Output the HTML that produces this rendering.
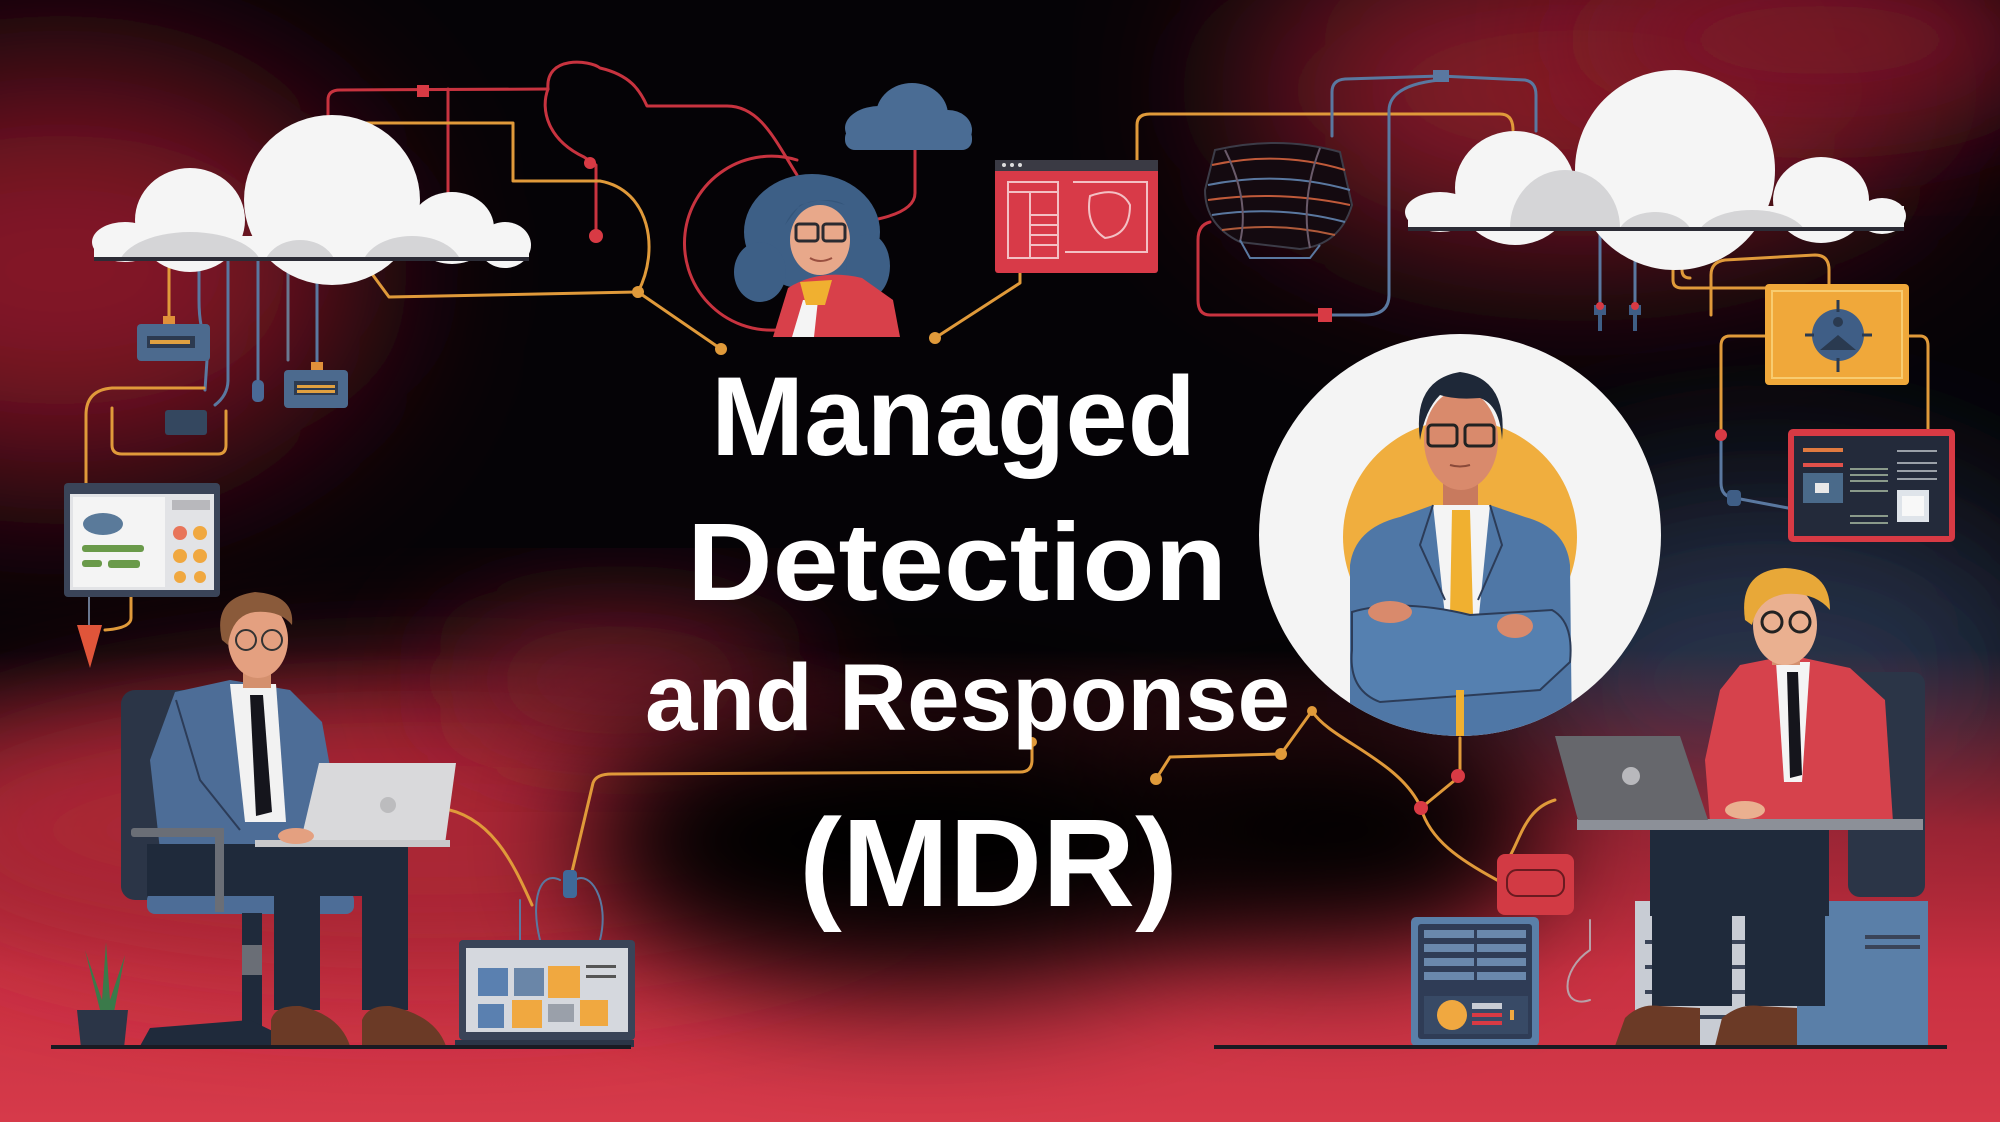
<!DOCTYPE html>
<html><head><meta charset="utf-8">
<style>
html,body{margin:0;padding:0;background:#050306;overflow:hidden;width:2000px;height:1122px;}
svg{display:block;overflow:hidden;}
</style></head><body>
<svg width="2000" height="1122" viewBox="0 0 2000 1122" xmlns="http://www.w3.org/2000/svg">
<defs>
<filter id="b90" x="-60%" y="-60%" width="220%" height="220%"><feGaussianBlur stdDeviation="90"/></filter>
<filter id="b60" x="-60%" y="-60%" width="220%" height="220%"><feGaussianBlur stdDeviation="60"/></filter>
<linearGradient id="bot" x1="0" y1="0" x2="0" y2="1">
<stop offset="0" stop-color="#b02636" stop-opacity="0"/>
<stop offset="0.38" stop-color="#b02636" stop-opacity="0.85"/>
<stop offset="0.68" stop-color="#c83041"/>
<stop offset="1" stop-color="#d63a4a"/>
</linearGradient>
<clipPath id="cc"><circle cx="1460" cy="535" r="201"/></clipPath>
<clipPath id="lc"><rect x="90" y="100" width="445" height="159"/></clipPath>
<clipPath id="rc"><rect x="1400" y="60" width="510" height="169"/></clipPath>
<clipPath id="all"><rect x="0" y="0" width="2000" height="1122"/></clipPath>
</defs>

<g clip-path="url(#all)">
<!-- BACKGROUND -->
<rect width="2000" height="1122" fill="#050306"/>
<ellipse cx="60" cy="270" rx="300" ry="200" fill="#841828" filter="url(#b90)"/>
<ellipse cx="1580" cy="90" rx="340" ry="150" fill="#8c1a2c" filter="url(#b90)"/>
<ellipse cx="1820" cy="40" rx="240" ry="80" fill="#7a1626" filter="url(#b60)"/>
<ellipse cx="1770" cy="680" rx="300" ry="190" fill="#27314a" filter="url(#b90)"/>
<rect x="0" y="650" width="2000" height="472" fill="url(#bot)"/>
<ellipse cx="420" cy="830" rx="520" ry="140" fill="#aa2636" filter="url(#b60)"/>
<ellipse cx="620" cy="680" rx="180" ry="60" fill="#7a1a2a" filter="url(#b60)"/>
<ellipse cx="920" cy="840" rx="340" ry="150" fill="#050306" filter="url(#b60)"/>
<ellipse cx="1330" cy="830" rx="220" ry="120" fill="#050306" filter="url(#b60)"/>
</g>

<!-- WIRES -->
<g fill="none" stroke-width="3" stroke-linecap="round" stroke-linejoin="round">
<path d="M328,116 L328,100 Q328,90 340,90 L548,89" stroke="#c8333f"/>
<path d="M448,89 L448,193" stroke="#c8333f"/>
<path d="M548,89 C545,55 590,60 600,68 C630,75 640,90 647,106 L727,106 C760,106 775,140 797,175" stroke="#c8333f"/>
<path d="M548,89 C540,110 548,140 584,157 L596,165 L596,236" stroke="#c8333f"/>
<path d="M360,123 L513,123 L513,181 L600,181 C650,190 660,250 638,292 L389,297 L364,263" stroke="#e09a3a"/>
<path d="M638,292 L721,349" stroke="#e09a3a"/>
<path d="M797,160 A87,87 0 1,0 777,330" stroke="#c8333f"/>
<path d="M915,150 L915,193 Q915,212 873,220" stroke="#c8333f"/>
<path d="M1020,273 L1020,283 L935,338" stroke="#e09a3a"/>
<path d="M1137,160 L1137,125 Q1137,114 1150,114 L1500,114 Q1513,114 1513,130" stroke="#e09a3a"/>
<path d="M1332,136 L1332,92 Q1332,80 1345,79 L1440,76 L1525,80 Q1536,82 1536,95 L1536,131" stroke="#5a78a0"/>
<path d="M1440,80 Q1390,85 1389,110 L1389,295 Q1389,315 1365,315 L1325,315" stroke="#5a78a0"/>
<path d="M1325,315 L1210,315 Q1198,315 1198,300 L1198,240 Q1198,225 1210,222" stroke="#c8333f"/>
<path d="M1600,229 L1600,305" stroke="#5a78a0"/>
<path d="M1635,229 L1635,305" stroke="#5a78a0"/>
<path d="M1673,229 L1673,280 Q1673,288 1682,288 L1765,288" stroke="#e09a3a"/>
<path d="M1682,229 L1682,270 Q1682,278 1690,278" stroke="#e09a3a"/>
<path d="M1711,315 L1711,275 Q1711,262 1725,260 L1815,255 Q1829,255 1829,270 L1829,284" stroke="#e09a3a"/>
<path d="M1909,336 L1920,336 Q1928,336 1928,346 L1928,429" stroke="#e09a3a"/>
<path d="M1765,336 L1730,336 Q1721,336 1721,346 L1721,435" stroke="#e09a3a"/>
<path d="M1721,435 L1721,483 Q1721,497 1735,498 L1788,508" stroke="#5a78a0"/>
<path d="M169,259 L169,324" stroke="#e09a3a"/>
<path d="M199,259 L199,300 Q199,330 208,345 L205,390" stroke="#5a78a0"/>
<path d="M228,259 L228,380 Q228,395 215,405" stroke="#5a78a0"/>
<path d="M258,259 L258,395" stroke="#5a78a0"/>
<path d="M288,259 L288,360" stroke="#6a7890"/>
<path d="M317,259 L317,370" stroke="#5a78a0"/>
<path d="M86,485 L86,415 Q86,390 112,388 L204,388" stroke="#e09a3a"/>
<path d="M112,408 L112,445 Q112,454 122,454 L218,454 Q226,454 226,445 L226,411" stroke="#e09a3a"/>
<path d="M131,597 L131,618 Q131,628 105,630" stroke="#e09a3a"/>
<path d="M89,597 L89,625" stroke="#6a7890" stroke-width="2"/>
<path d="M440,808 C490,815 512,860 532,905" stroke="#e09a3a"/>
<path d="M571,876 L593,783 Q596,774 612,774 L1020,772 Q1032,772 1032,760 L1032,742" stroke="#e09a3a"/>
<path d="M1156,779 L1170,757 L1281,754 L1312,711" stroke="#e09a3a"/>
<path d="M1312,711 C1330,740 1400,760 1421,808" stroke="#e09a3a"/>
<path d="M1460,738 L1460,776 L1421,808 C1430,840 1460,860 1497,880" stroke="#e09a3a"/>
<path d="M1555,800 C1520,810 1520,850 1500,870" stroke="#e09a3a"/>
<path d="M540,940 C530,900 540,870 560,880 M600,940 C610,900 590,870 575,880 M520,940 L520,900" stroke="#5a78a0" stroke-width="2"/>
<path d="M1590,1000 C1560,1010 1560,970 1590,950 L1590,920" stroke="#b8a0a8" stroke-width="2"/>
</g>
<g>
<rect x="417" y="85" width="12" height="12" fill="#d83a44"/>
<circle cx="590" cy="163" r="6" fill="#d83a44"/>
<circle cx="596" cy="236" r="7" fill="#d83a44"/>
<circle cx="638" cy="292" r="6" fill="#e09a3a"/>
<circle cx="721" cy="349" r="6" fill="#e09a3a"/>
<circle cx="935" cy="338" r="6" fill="#e09a3a"/>
<rect x="1433" y="70" width="16" height="12" fill="#5a78a0"/>
<rect x="1318" y="308" width="14" height="14" fill="#d83a44"/>
<circle cx="1721" cy="435" r="6" fill="#d83a44"/>
<path d="M1594,305 h12 v10 h-4 v16 h-4 v-16 h-4z" fill="#3f5e86"/>
<path d="M1629,305 h12 v10 h-4 v16 h-4 v-16 h-4z" fill="#3f5e86"/>
<circle cx="1600" cy="306" r="4" fill="#d83a44"/>
<circle cx="1635" cy="306" r="4" fill="#d83a44"/>
<rect x="1727" y="490" width="14" height="16" rx="4" fill="#3f5e86"/>
<circle cx="1032" cy="742" r="5" fill="#e09a3a"/>
<circle cx="1156" cy="779" r="6" fill="#e09a3a"/>
<circle cx="1281" cy="754" r="6" fill="#e09a3a"/>
<circle cx="1312" cy="711" r="5" fill="#e09a3a"/>
<circle cx="1421" cy="808" r="7" fill="#d83a44"/>
<circle cx="1458" cy="776" r="7" fill="#d83a44"/>
<rect x="563" y="870" width="14" height="28" rx="4" fill="#3f6a9a"/>
<rect x="252" y="380" width="12" height="22" rx="5" fill="#4a6a96"/>
<rect x="311" y="362" width="12" height="10" fill="#e0903a"/>
<rect x="163" y="316" width="12" height="10" fill="#e0903a"/>
</g>

<!-- LEFT CLOUD -->
<g>
<g fill="#f5f5f5">
<ellipse cx="125" cy="242" rx="33" ry="20"/>
<ellipse cx="190" cy="220" rx="55" ry="52"/>
<ellipse cx="332" cy="200" rx="88" ry="85"/>
<ellipse cx="452" cy="228" rx="42" ry="36"/>
<ellipse cx="505" cy="245" rx="26" ry="23"/>
<rect x="94" y="236" width="435" height="23"/>
</g>
<g clip-path="url(#lc)" fill="#d5d5d7">
<ellipse cx="190" cy="268" rx="72" ry="36"/>
<ellipse cx="300" cy="268" rx="36" ry="28"/>
<ellipse cx="412" cy="268" rx="50" ry="32"/>
</g>
<rect x="94" y="257" width="435" height="4" fill="#2c2c36"/>
</g>

<!-- RIGHT CLOUD -->
<g>
<g fill="#f5f5f5">
<ellipse cx="1440" cy="212" rx="35" ry="20"/>
<ellipse cx="1515" cy="188" rx="60" ry="57"/>
<ellipse cx="1675" cy="170" rx="100" ry="100"/>
<ellipse cx="1821" cy="200" rx="48" ry="43"/>
<ellipse cx="1882" cy="216" rx="24" ry="18"/>
<rect x="1408" y="206" width="496" height="23"/>
</g>
<g clip-path="url(#rc)" fill="#d5d5d7">
<ellipse cx="1565" cy="228" rx="55" ry="58"/>
<ellipse cx="1655" cy="238" rx="38" ry="26"/>
<ellipse cx="1752" cy="238" rx="55" ry="28"/>
</g>
<rect x="1408" y="227" width="496" height="4" fill="#2c2c36"/>
</g>

<!-- small blue cloud -->
<g fill="#4a6c94">
<ellipse cx="880" cy="128" rx="35" ry="22"/>
<ellipse cx="912" cy="115" rx="36" ry="32"/>
<ellipse cx="948" cy="130" rx="24" ry="20"/>
<rect x="845" y="128" width="127" height="22" rx="10"/>
</g>

<!-- left devices -->
<g>
<rect x="137" y="324" width="73" height="37" rx="4" fill="#4c6a8e"/>
<rect x="147" y="336" width="48" height="12" fill="#2c3a50"/>
<rect x="150" y="340" width="40" height="4" fill="#e0a040"/>
<rect x="284" y="370" width="64" height="38" rx="4" fill="#4c6a8e"/>
<rect x="294" y="381" width="44" height="14" fill="#2c3a50"/>
<rect x="297" y="385" width="38" height="3" fill="#e0a040"/>
<rect x="297" y="390" width="38" height="3" fill="#e0a040"/>
<rect x="165" y="410" width="42" height="25" rx="3" fill="#34475f"/>
</g>

<!-- left monitor -->
<g>
<rect x="64" y="483" width="156" height="114" rx="4" fill="#3a4458"/>
<rect x="70" y="494" width="144" height="96" fill="#e2e3e6"/>
<rect x="73" y="497" width="92" height="90" fill="#f4f4f4"/>
<ellipse cx="103" cy="524" rx="20" ry="11" fill="#5a7a9a"/>
<rect x="82" y="545" width="62" height="7" rx="3" fill="#6a9a4a"/>
<rect x="82" y="560" width="20" height="7" rx="3" fill="#6a9a4a"/>
<rect x="108" y="560" width="32" height="8" rx="3" fill="#6a9a4a"/>
<rect x="172" y="500" width="38" height="10" fill="#b8b8bc"/>
<circle cx="180" cy="533" r="7" fill="#e8755a"/>
<circle cx="200" cy="533" r="7" fill="#f0a840"/>
<circle cx="180" cy="556" r="7" fill="#f0a840"/>
<circle cx="200" cy="556" r="7" fill="#f0a840"/>
<circle cx="180" cy="577" r="6" fill="#f0a840"/>
<circle cx="200" cy="577" r="6" fill="#f0a840"/>
</g>
<polygon points="77,625 102,625 90,668" fill="#e0553a"/>

<!-- WOMAN -->
<g>
<ellipse cx="812" cy="232" rx="68" ry="58" fill="#3d5f86"/>
<ellipse cx="760" cy="272" rx="26" ry="30" fill="#3d5f86"/>
<ellipse cx="868" cy="266" rx="22" ry="32" fill="#3d5f86"/>
<ellipse cx="820" cy="240" rx="30" ry="35" fill="#e8a88a"/>
<path d="M785,225 Q800,190 845,205 Q830,195 800,205 Z" fill="#34557a"/>
<rect x="796" y="224" width="22" height="17" rx="3" fill="none" stroke="#2a2a30" stroke-width="3"/>
<rect x="823" y="224" width="22" height="17" rx="3" fill="none" stroke="#2a2a30" stroke-width="3"/>
<path d="M810,258 Q820,264 832,258" stroke="#9a5040" stroke-width="2" fill="none"/>
<path d="M773,337 L788,288 Q820,268 862,278 L893,300 L900,337 Z" fill="#d8404a"/>
<polygon points="792,337 803,300 818,300 814,337" fill="#f4f4f4"/>
<polygon points="800,282 832,280 825,305 806,305" fill="#f0b030"/>
</g>

<!-- RED PANEL -->
<g>
<rect x="995" y="160" width="163" height="113" rx="3" fill="#d83a48"/>
<rect x="995" y="160" width="163" height="11" fill="#3a3a44"/>
<g fill="#ddd"><circle cx="1004" cy="165" r="2"/><circle cx="1012" cy="165" r="2"/><circle cx="1020" cy="165" r="2"/></g>
<g fill="none" stroke="#f3c0c4" stroke-width="2">
<rect x="1008" y="182" width="50" height="76"/>
<path d="M1008,192 H1058 M1030,192 V258 M1030,215 H1058 M1030,225 H1058 M1030,235 H1058 M1030,245 H1058"/>
<path d="M1073,182 H1147 V252 H1065"/>
<path d="M1090,196 Q1120,185 1130,205 Q1130,235 1105,238 Q1085,225 1090,196 Z"/>
</g>
</g>

<!-- WIRE DEVICE -->
<g fill="none" stroke-width="2">
<path d="M1215,150 Q1280,135 1340,152 L1352,205 Q1340,245 1300,249 L1240,242 Q1205,225 1205,190 Z" stroke="#3c3c48" fill="#140a10"/>
<path d="M1212,165 Q1280,150 1345,170" stroke="#c05a3a"/>
<path d="M1208,185 Q1280,170 1350,190" stroke="#5a78a0"/>
<path d="M1208,200 Q1280,190 1350,205" stroke="#c05a3a"/>
<path d="M1212,215 Q1280,205 1345,222" stroke="#5a78a0"/>
<path d="M1222,230 Q1280,222 1335,235" stroke="#b05a3a"/>
<path d="M1225,150 Q1250,200 1240,242 M1320,148 Q1300,200 1310,248" stroke="#6a5a6a"/>
<path d="M1240,240 L1250,258 L1310,258 L1320,245" stroke="#5a78a0"/>
</g>

<!-- YELLOW PANEL -->
<g>
<rect x="1765" y="284" width="144" height="101" rx="4" fill="#f0a83a"/>
<rect x="1772" y="291" width="130" height="87" fill="none" stroke="#f8cc70" stroke-width="2"/>
<circle cx="1838" cy="335" r="26" fill="#3f5e86"/>
<path d="M1838,300 V312 M1838,358 V372 M1805,335 H1814 M1862,335 H1872" stroke="#2a3a50" stroke-width="3"/>
<path d="M1820,350 L1838,335 L1856,350 Z" fill="#2a3a50"/>
<circle cx="1838" cy="322" r="5" fill="#2a3a50"/>
</g>

<!-- RIGHT MONITOR -->
<g>
<rect x="1788" y="429" width="167" height="113" rx="5" fill="#d83a44"/>
<rect x="1794" y="436" width="155" height="100" fill="#232a3a"/>
<rect x="1803" y="448" width="40" height="4" fill="#e07a40"/>
<rect x="1803" y="463" width="40" height="4" fill="#e0504a"/>
<rect x="1803" y="473" width="40" height="30" fill="#4a6a8a"/>
<rect x="1815" y="483" width="14" height="10" fill="#e8e8e8"/>
<g fill="#8a9a8a"><rect x="1850" y="468" width="38" height="2"/><rect x="1850" y="474" width="38" height="2"/><rect x="1850" y="480" width="38" height="2"/><rect x="1850" y="490" width="38" height="2"/><rect x="1850" y="515" width="38" height="2"/><rect x="1850" y="522" width="38" height="2"/></g>
<g fill="#9aa0a8"><rect x="1897" y="450" width="40" height="2"/><rect x="1897" y="462" width="40" height="2"/><rect x="1897" y="470" width="40" height="2"/><rect x="1897" y="478" width="40" height="2"/></g>
<rect x="1897" y="490" width="32" height="32" fill="#dfe4ea"/>
<rect x="1902" y="496" width="22" height="20" fill="#f8f8f8"/>
</g>

<!-- BIG CIRCLE + MAN -->
<circle cx="1460" cy="535" r="201" fill="#f4f4f4"/>
<circle cx="1460" cy="537" r="117" fill="#f0ae3e"/>
<g clip-path="url(#cc)">
<rect x="1443" y="470" width="35" height="45" fill="#c87a5e"/>
<path d="M1350,740 L1350,565 Q1355,528 1400,517 L1433,505 L1490,505 L1525,517 Q1566,528 1570,565 L1572,740 Z" fill="#4f77a6"/>
<polygon points="1433,505 1490,505 1478,625 1446,625" fill="#f4f4f4"/>
<polygon points="1452,510 1470,510 1473,615 1462,632 1450,615" fill="#f0b030"/>
<path d="M1433,505 L1420,545 L1445,600 M1490,505 L1502,545 L1478,600" stroke="#2c3c58" stroke-width="2" fill="none"/>
<path d="M1352,612 Q1400,598 1470,615 L1552,610 Q1574,622 1570,662 L1540,690 L1380,702 Q1348,690 1352,650 Z" fill="#5580b0" stroke="#2c3c58" stroke-width="2"/>
<ellipse cx="1390" cy="612" rx="22" ry="11" fill="#d98a6c"/>
<ellipse cx="1515" cy="626" rx="18" ry="12" fill="#d98a6c"/>
<rect x="1456" y="690" width="8" height="50" fill="#f0b030"/>
</g>
<ellipse cx="1461" cy="440" rx="37" ry="50" fill="#d98a6c"/>
<path d="M1420,440 Q1412,380 1460,372 Q1508,378 1502,440 Q1500,405 1480,398 Q1455,400 1440,395 Q1425,410 1420,440 Z" fill="#1e2838"/>
<rect x="1428" y="425" width="29" height="21" rx="4" fill="none" stroke="#222" stroke-width="3"/>
<rect x="1465" y="425" width="29" height="21" rx="4" fill="none" stroke="#222" stroke-width="3"/>
<path d="M1450,465 Q1460,468 1470,465" stroke="#8a4a3a" stroke-width="2" fill="none"/>

<!-- TITLE -->
<g font-family="'Liberation Sans', 'DejaVu Sans', sans-serif" font-weight="bold" fill="#ffffff">
<text x="711" y="455" font-size="112" textLength="485" lengthAdjust="spacingAndGlyphs">Managed</text>
<text x="687" y="600" font-size="110" textLength="540" lengthAdjust="spacingAndGlyphs">Detection</text>
<text x="645" y="730" font-size="95" textLength="645" lengthAdjust="spacingAndGlyphs">and Response</text>
<text x="799" y="906" font-size="125" textLength="379" lengthAdjust="spacingAndGlyphs">(MDR)</text>
</g>

<!-- LEFT PERSON -->
<g>
<rect x="121" y="690" width="95" height="210" rx="14" fill="#2b3547"/>
<rect x="147" y="892" width="207" height="22" rx="8" fill="#4d6d97"/>
<path d="M175,692 L230,680 L290,690 L322,722 L336,800 L330,846 L160,850 L150,760 Z" fill="#4d6d97"/>
<polygon points="230,684 276,684 286,822 245,822" fill="#f2f2f2"/>
<polygon points="250,695 263,695 272,812 256,816" fill="#15151c"/>
<path d="M176,700 L200,780 L240,830" stroke="#2c3c58" stroke-width="2" fill="none"/>
<rect x="243" y="660" width="28" height="28" fill="#d4906e"/>
<ellipse cx="258" cy="640" rx="30" ry="38" fill="#e4a080"/>
<path d="M222,640 Q212,598 255,592 Q295,595 292,625 Q280,610 255,612 Q232,615 228,645 Z" fill="#8a5a3a"/>
<circle cx="246" cy="640" r="10" fill="none" stroke="#333" stroke-width="2"/>
<circle cx="272" cy="640" r="10" fill="none" stroke="#333" stroke-width="2"/>
<rect x="147" y="844" width="261" height="52" fill="#1f2a3b"/>
<rect x="274" y="880" width="46" height="130" fill="#1f2a3b"/>
<rect x="362" y="880" width="46" height="130" fill="#1f2a3b"/>
<rect x="131" y="828" width="92" height="9" rx="3" fill="#6a6e76"/>
<rect x="215" y="828" width="9" height="84" fill="#6a6e76"/>
<rect x="242" y="913" width="20" height="127" fill="#1f2a3b"/>
<rect x="242" y="945" width="20" height="30" fill="#6a6e76"/>
<path d="M140,1046 L150,1028 L250,1020 L287,1038 L287,1046 Z" fill="#1f2a3b"/>
<path d="M271,1046 L271,1020 Q275,1005 300,1006 Q340,1015 350,1046 Z" fill="#6b3a26"/>
<path d="M362,1046 L362,1020 Q368,1005 390,1006 Q435,1015 446,1046 Z" fill="#6b3a26"/>
<polygon points="319,763 456,763 445,844 300,844" fill="#d9d9db"/>
<circle cx="388" cy="805" r="8" fill="#bcbcbe"/>
<rect x="255" y="840" width="195" height="7" fill="#c8c8ca"/>
<ellipse cx="296" cy="836" rx="18" ry="8" fill="#e4a080"/>
</g>
<g>
<path d="M100,1010 L85,950 L102,1000 L106,942 L110,1000 L125,955 L114,1012 Z" fill="#3a7a4a"/>
<polygon points="77,1010 128,1010 124,1048 81,1048" fill="#2b3547"/>
</g>
<g>
<rect x="459" y="940" width="176" height="100" rx="4" fill="#3a4458"/>
<rect x="466" y="948" width="162" height="84" fill="#d5d8de"/>
<rect x="478" y="968" width="30" height="28" fill="#5a80b0"/>
<rect x="514" y="968" width="30" height="28" fill="#6a86a8"/>
<rect x="548" y="966" width="32" height="32" fill="#f0a840"/>
<rect x="478" y="1004" width="26" height="24" fill="#5a80b0"/>
<rect x="512" y="1000" width="30" height="28" fill="#f0a840"/>
<rect x="548" y="1004" width="26" height="18" fill="#9aa0aa"/>
<rect x="580" y="1000" width="28" height="26" fill="#f0a840"/>
<rect x="586" y="965" width="30" height="3" fill="#555"/>
<rect x="586" y="975" width="30" height="3" fill="#555"/>
<rect x="455" y="1040" width="179" height="7" fill="#2b3547"/>
</g>
<rect x="51" y="1045" width="580" height="4" fill="#1a1a22"/>

<!-- RIGHT PERSON -->
<g>
<rect x="1848" y="672" width="77" height="225" rx="12" fill="#2b3547"/>
<rect x="1635" y="901" width="162" height="145" fill="#c8ccd4"/>
<rect x="1797" y="901" width="131" height="145" fill="#5a7fa8"/>
<g fill="#3a4458"><rect x="1645" y="940" width="150" height="4"/><rect x="1645" y="965" width="150" height="4"/><rect x="1645" y="990" width="150" height="4"/><rect x="1645" y="1015" width="150" height="4"/><rect x="1865" y="935" width="55" height="4"/><rect x="1865" y="945" width="55" height="4"/></g>
<path d="M1740,665 L1790,655 L1850,668 L1885,700 L1893,822 L1710,822 L1705,760 L1720,690 Z" fill="#d6424c"/>
<polygon points="1776,662 1810,662 1802,782 1784,782" fill="#f4f4f4"/>
<polygon points="1787,672 1798,672 1802,775 1790,778" fill="#15151c"/>
<rect x="1772" y="640" width="28" height="25" fill="#d4906e"/>
<ellipse cx="1785" cy="625" rx="32" ry="40" fill="#eab090"/>
<path d="M1745,620 Q1738,570 1785,568 Q1830,570 1830,610 Q1815,592 1785,594 Q1758,598 1752,625 Z" fill="#e8a838"/>
<circle cx="1772" cy="622" r="10" fill="none" stroke="#222" stroke-width="3"/>
<circle cx="1800" cy="622" r="10" fill="none" stroke="#222" stroke-width="3"/>
<rect x="1650" y="826" width="179" height="90" fill="#1f2a3b"/>
<rect x="1652" y="900" width="80" height="106" fill="#1f2a3b"/>
<rect x="1745" y="900" width="80" height="106" fill="#1f2a3b"/>
<path d="M1615,1046 L1625,1018 Q1640,1003 1660,1006 L1700,1008 L1700,1046 Z" fill="#6b3a26"/>
<path d="M1715,1046 L1722,1018 Q1740,1003 1760,1006 L1797,1008 L1797,1046 Z" fill="#6b3a26"/>
<rect x="1577" y="819" width="346" height="11" fill="#8c9098"/>
<polygon points="1555,736 1680,736 1708,820 1578,820" fill="#66676c"/>
<circle cx="1631" cy="776" r="9" fill="#b8b8bc"/>
<ellipse cx="1745" cy="810" rx="20" ry="9" fill="#eab090"/>
</g>
<g>
<rect x="1411" y="917" width="128" height="129" rx="5" fill="#5a7fa8"/>
<rect x="1418" y="924" width="114" height="115" rx="3" fill="#2f3c56"/>
<g fill="#6a88ac"><rect x="1424" y="930" width="102" height="8"/><rect x="1424" y="944" width="102" height="8"/><rect x="1424" y="958" width="102" height="8"/><rect x="1424" y="972" width="102" height="8"/></g>
<rect x="1474" y="928" width="3" height="56" fill="#2f3c56"/>
<rect x="1424" y="996" width="104" height="38" fill="#384a66"/>
<circle cx="1452" cy="1015" r="15" fill="#f0a840"/>
<rect x="1472" y="1003" width="30" height="6" fill="#c8ccd4"/>
<rect x="1472" y="1013" width="30" height="4" fill="#d83a44"/>
<rect x="1472" y="1021" width="30" height="4" fill="#d83a44"/>
<rect x="1510" y="1010" width="4" height="10" fill="#f0a840"/>
</g>
<g>
<rect x="1497" y="854" width="77" height="61" rx="8" fill="#d23a44"/>
<rect x="1507" y="870" width="57" height="26" rx="10" fill="none" stroke="#6a1a20" stroke-width="2"/>
</g>
<rect x="1214" y="1045" width="733" height="4" fill="#1a1a22"/>
</svg>
</body></html>
